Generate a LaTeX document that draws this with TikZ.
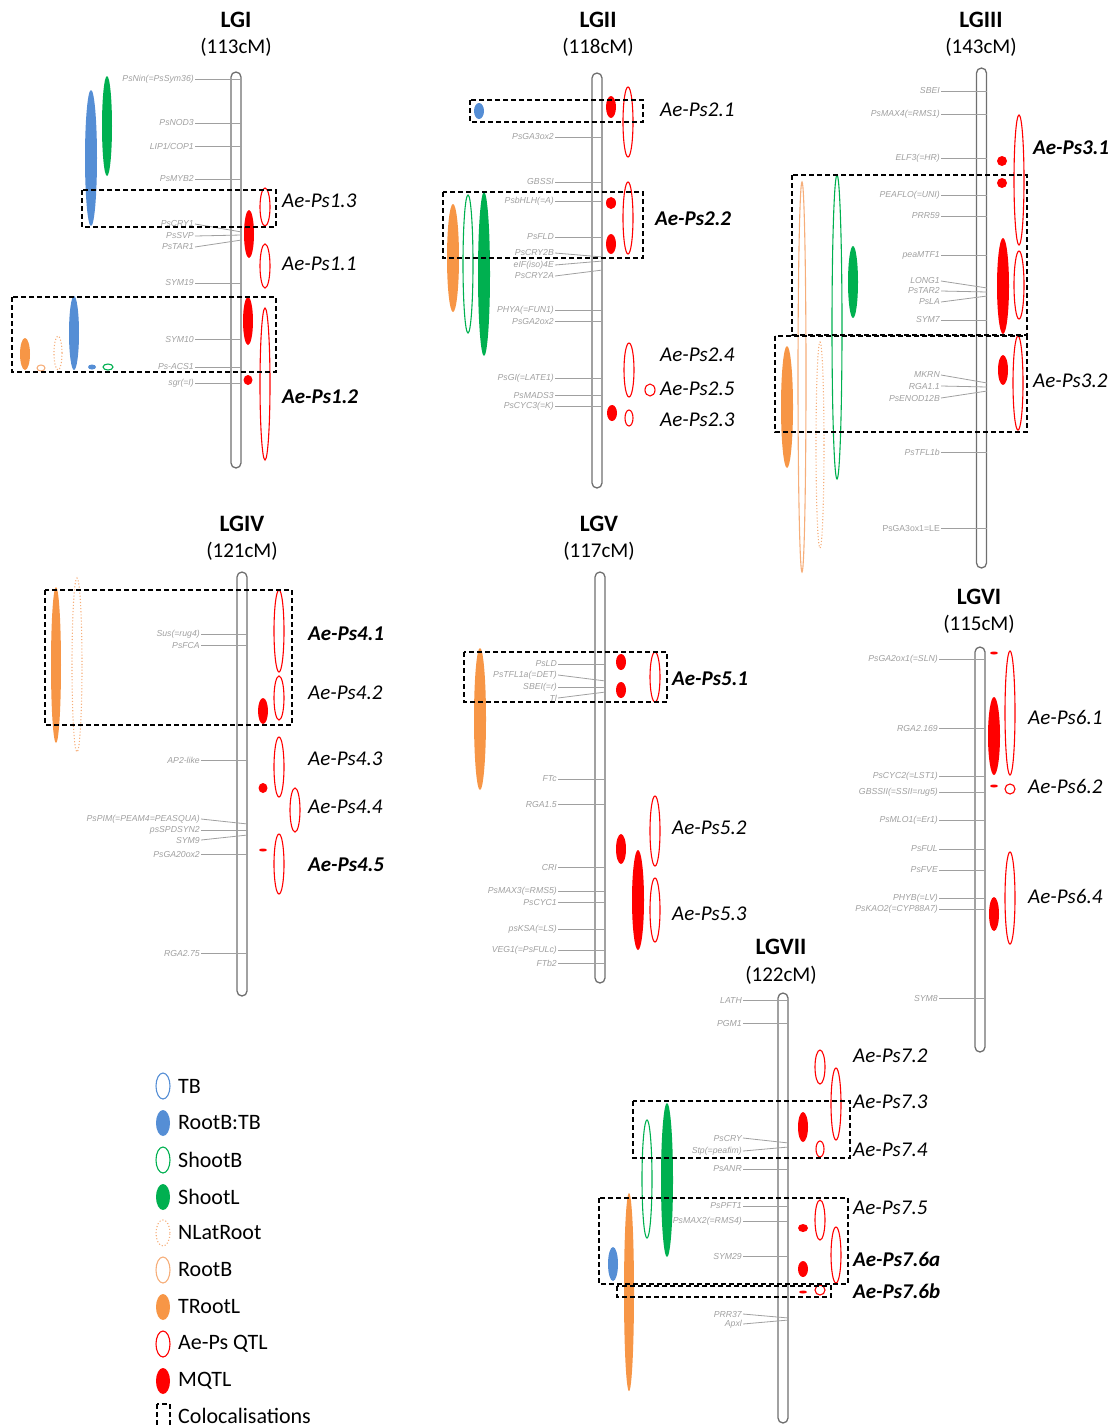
\documentclass[tikz,border=0pt]{standalone}
\usepackage{fontspec}
\setmainfont{Carlito}
\newfontfamily\mkfont{Liberation Sans}
\definecolor{blueC}{HTML}{558ED5}
\definecolor{greenC}{HTML}{00B050}
\definecolor{orangeC}{HTML}{F79646}
\definecolor{lorangeC}{HTML}{F6AE7A}
\definecolor{mkC}{HTML}{A0A0A0}
\definecolor{barC}{HTML}{6F6F6F}
\newcommand\qe[5][]{\path[#1] (#2,#3) ellipse [x radius=#4pt, y radius=#5pt];}
\begin{document}
\begin{tikzpicture}[x=1pt,y=-1pt,
 bar/.style={draw=barC, line width=1.3pt, rounded corners=5pt, minimum width=10pt, inner sep=0pt},
 mk/.style={anchor=east, inner sep=1pt, text=mkC, font=\mkfont\itshape\fontsize{8.7}{9}\selectfont},
 tick/.style={draw=mkC, line width=0.8pt},
 mq/.style={fill=red},
 aq/.style={draw=red, line width=1.1pt},
 tbo/.style={draw=blueC, line width=1.1pt},
 rtb/.style={fill=blueC},
 sbo/.style={draw=greenC, line width=1.1pt},
 slf/.style={fill=greenC},
 nlr/.style={draw=lorangeC, line width=1.1pt, dotted},
 rbo/.style={draw=lorangeC, line width=1.1pt},
 trl/.style={fill=orangeC},
 coloc/.style={draw=black, line width=1.1pt, dash pattern=on 5pt off 3pt},
 qlab/.style={anchor=west, inner sep=0pt, font=\itshape\fontsize{21}{24}\selectfont},
 qlabb/.style={anchor=west, inner sep=0pt, font=\bfseries\itshape\fontsize{21}{24}\selectfont},
 ttl/.style={inner sep=0pt, font=\bfseries\fontsize{23.5}{26}\selectfont},
 sub/.style={inner sep=0pt, font=\fontsize{21}{24}\selectfont},
 leg/.style={anchor=west, inner sep=0pt, font=\fontsize{22}{24}\selectfont}]
\useasboundingbox (0,0) rectangle (1112,1427);

% ---------------- titles
\node[ttl] (t1) at (236,20) {LGI};   \node[sub] (s1) at (236,47) {(113cM)};
\node[ttl] (t2) at (598,20) {LGII};  \node[sub] (s2) at (598,47) {(118cM)};
\node[ttl] (t3) at (981,20) {LGIII}; \node[sub] (s3) at (981,47) {(143cM)};
\node[ttl] (t4) at (242,524) {LGIV}; \node[sub] (s4) at (242,551) {(121cM)};
\node[ttl] (t5) at (599,524) {LGV};  \node[sub] (s5) at (599,551) {(117cM)};
\node[ttl] (t6) at (979,597) {LGVI}; \node[sub] (s6) at (979,624) {(115cM)};
\node[ttl] (t7) at (781,947) {LGVII};\node[sub] (s7) at (781,975) {(122cM)};

% ---------------- chromosome bars
\node[bar, minimum height=396pt] (c1) at (236,270) {};
\node[bar, minimum height=415pt] (c2) at (597,280.5) {};
\node[bar, minimum height=500pt] (c3) at (981.5,318) {};
\node[bar, minimum height=424pt] (c4) at (242,784) {};
\node[bar, minimum height=411pt] (c5) at (600,777.5) {};
\node[bar, minimum height=405pt] (c6) at (980,849.5) {};
\node[bar, minimum height=430pt] (c7) at (783,1208) {};

% ---------------- markers
\foreach \t/\y/\yb [count=\i] in {PsNin(=PsSym36)/79/79, PsNOD3/123/123, {LIP1/COP1}/146/146, PsMYB2/179/179, PsCRY1/224/232, PsSVP/236/235, PsTAR1/247/240, SYM19/283/283, SYM10/339/339, Ps-ACS1/367/367, sgr(=I)/383/383}{
  \node[mk] (ma\i) at (195,\y) {\t};
  \draw[tick] (ma\i.east) -- (c1.east |- 0,\yb);
}
\foreach \t/\y/\yb [count=\i] in {PsGA3ox2/137/137, GBSSI/182/182, PsbHLH(=A)/201/201, PsFLD/237/237, PsCRY2B/253/257, eIF(iso)4E/265/261, PsCRY2A/276/270, PHYA(=FUN1)/310/310, PsGA2ox2/321/321, PsGI(=LATE1)/378/378, PsMADS3/395/395, PsCYC3(=K)/406/406}{
  \node[mk] (mb\i) at (555,\y) {\t};
  \draw[tick] (mb\i.east) -- (c2.east |- 0,\yb);
}
\foreach \t/\y/\yb [count=\i] in {SBEI/91/91, PsMAX4(=RMS1)/114/114, ELF3(=HR)/158/158, PEAFLO(=UNI)/195/195, PRR59/216/216, peaMTF1/255/255, LONG1/281/288, PsTAR2/291/292, PsLA/302/296, SYM7/320/320, MKRN/375/383, RGA1.1/386/387, PsENOD12B/398/391, PsTFL1b/452/452}{
  \node[mk] (mc\i) at (941,\y) {\t};
  \draw[tick] (mc\i.east) -- (c3.east |- 0,\yb);
}
\node[mk, font=\mkfont\fontsize{8.7}{9}\selectfont] (mc15) at (941,528) {PsGA3ox1=LE};
\draw[tick] (mc15.east) -- (c3.east |- 0,528);
\foreach \t/\y/\yb [count=\i] in {Sus(=rug4)/634/634, PsFCA/645/645, AP2-like/760/760, PsPIM(=PEAM4=PEASQUA)/819/824, psSPDSYN2/830/830, SYM9/840/835, PsGA20ox2/854/854, RGA2.75/953/953}{
  \node[mk] (md\i) at (201,\y) {\t};
  \draw[tick] (md\i.east) -- (c4.east |- 0,\yb);
}
\foreach \t/\y/\yb [count=\i] in {PsLD/664/664, PsTFL1a(=DET)/675/681, SBEI(=r)/687/687, Tl/698/692, FTc/779/779, RGA1.5/804/804, CRI/867/867, PsMAX3(=RMS5)/891/891, PsCYC1/902/902, psKSA(=LS)/929/929, VEG1(=PsFULc)/950/950, FTb2/963/963}{
  \node[mk] (me\i) at (558,\y) {\t};
  \draw[tick] (me\i.east) -- (c5.east |- 0,\yb);
}
\foreach \t/\y/\yb [count=\i] in {PsGA2ox1(=SLN)/659/659, RGA2.169/728/728, PsCYC2(=LST1)/776/776, GBSSII(=SSII=rug5)/792/792, PsMLO1(=Er1)/820/820, PsFUL/849/849, PsFVE/870/870, PHYB(=LV)/898/898, PsKAO2(=CYP88A7)/909/909, SYM8/998/998}{
  \node[mk] (mf\i) at (939,\y) {\t};
  \draw[tick] (mf\i.east) -- (c6.east |- 0,\yb);
}
\foreach \t/\y/\yb [count=\i] in {LATH/1000/1000, PGM1/1023/1023, PsCRY/1138/1143, Stp(=peafim)/1151/1147, PsANR/1169/1169, PsPFT1/1206/1206, PsMAX2(=RMS4)/1221/1221, SYM29/1256/1256, PRR37/1314/1318, Apxl/1324/1320}{
  \node[mk] (mg\i) at (743,\y) {\t};
  \draw[tick] (mg\i.east) -- (c7.east |- 0,\yb);
}

% ---------------- LGI
\qe[slf]{107}{126}{5}{50}
\qe[rtb]{91}{158}{6}{68}
\qe[aq]{265}{207}{5}{19}
\qe[mq]{249}{234}{5}{24}
\qe[aq]{265}{266}{5}{22}
\qe[mq]{248}{321}{5}{24}
\qe[aq]{265}{384}{5}{76}
\qe[mq]{248}{380}{4.5}{5}
\qe[trl]{25}{354}{5}{16}
\qe[rbo]{41}{368}{4}{3}
\qe[nlr]{58}{353}{4}{17}
\qe[rtb]{74}{333}{5}{37}
\qe[rtb]{92}{367}{4}{2.5}
\qe[sbo]{108}{367}{5}{3}
\draw[coloc] (82,190) rectangle (276,227);
\draw[coloc] (12,297) rectangle (276,372);
\node[qlab] (q13) at (282,201) {Ae-Ps1.3};
\node[qlab] (q11) at (282,264) {Ae-Ps1.1};
\node[qlabb] (q12) at (282,397) {Ae-Ps1.2};

% ---------------- LGII
\qe[rtb]{479}{111}{5}{8}
\qe[mq]{611}{107}{5}{11}
\qe[aq]{628}{122}{5}{35}
\qe[mq]{611}{203}{5}{6}
\qe[mq]{611}{244}{5}{10}
\qe[aq]{628}{218}{5}{36}
\qe[trl]{453}{258}{6}{54}
\qe[sbo]{468}{264}{5}{69}
\qe[slf]{484}{274}{6}{82}
\qe[aq]{629}{370}{5}{27}
\qe[aq]{650}{390}{5}{6}
\qe[mq]{612}{413}{5}{8}
\qe[aq]{629}{418}{4}{8}
\draw[coloc] (470,100) rectangle (643,122);
\draw[coloc] (443,192) rectangle (643,258);
\node[qlab] (q21) at (660,110) {Ae-Ps2.1};
\node[qlabb] (q22) at (655,219) {Ae-Ps2.2};
\node[qlab] (q24) at (660,355) {Ae-Ps2.4};
\node[qlab] (q25) at (660,389) {Ae-Ps2.5};
\node[qlab] (q23) at (660,420) {Ae-Ps2.3};

% ---------------- LGIII
\qe[aq]{1019}{180}{5}{65}
\qe[mq]{1002}{161}{5}{5}
\qe[mq]{1002}{183}{5}{5}
\qe[mq]{1003}{286}{6}{48}
\qe[aq]{1019}{285}{5}{34}
\qe[mq]{1003}{370}{5}{15}
\qe[aq]{1018}{383}{5}{47}
\qe[rbo]{802}{377}{4}{195}
\qe[sbo]{837}{327}{5}{152}
\qe[slf]{853}{282}{5}{36}
\qe[trl]{787}{407}{6}{61}
\qe[nlr]{820}{445}{4}{103}
\draw[coloc] (792,175) rectangle (1027,335);
\draw[coloc] (775,336) rectangle (1027,432);
\node[qlabb] (q31) at (1033,148) {Ae-Ps3.1};
\node[qlab] (q32) at (1033,381) {Ae-Ps3.2};

% ---------------- LGIV
\qe[trl]{56}{665}{5}{78}
\qe[nlr]{77}{665}{5}{87}
\qe[aq]{279}{631}{5}{41}
\qe[aq]{279}{698}{5}{22}
\qe[mq]{263}{711}{5}{13}
\qe[aq]{279}{767}{5}{30}
\qe[mq]{263}{788}{4.5}{5}
\qe[aq]{295}{810}{5}{22}
\qe[mq]{263}{850}{4}{1.5}
\qe[aq]{279}{864}{5}{30}
\draw[coloc] (45,590) rectangle (292,725);
\node[qlabb] (q41) at (308,634) {Ae-Ps4.1};
\node[qlab] (q42) at (308,693) {Ae-Ps4.2};
\node[qlab] (q43) at (308,759) {Ae-Ps4.3};
\node[qlab] (q44) at (308,807) {Ae-Ps4.4};
\node[qlabb] (q45) at (308,865) {Ae-Ps4.5};

% ---------------- LGV
\qe[trl]{480}{719}{6}{71}
\qe[mq]{621}{662}{5}{8}
\qe[mq]{621}{690}{5}{8}
\qe[aq]{655}{677}{5}{25}
\qe[aq]{655}{831}{5}{35}
\qe[mq]{621}{849}{5}{15}
\qe[mq]{638}{900}{6}{50}
\qe[aq]{655}{910}{5}{32}
\draw[coloc] (464,652) rectangle (667,702);
\node[qlabb] (q51) at (672,679) {Ae-Ps5.1};
\node[qlab] (q52) at (672,828) {Ae-Ps5.2};
\node[qlab] (q53) at (672,914) {Ae-Ps5.3};

% ---------------- LGVI
\qe[mq]{994}{653}{4}{1.5}
\qe[aq]{1010}{713}{5}{62}
\qe[mq]{994}{736}{6}{39}
\qe[mq]{994}{786}{4}{1.5}
\qe[aq]{1010}{789}{5}{5}
\qe[aq]{1010}{898}{5}{46}
\qe[mq]{994}{914}{5}{17}
\node[qlab] (q61) at (1028,717) {Ae-Ps6.1};
\node[qlab] (q62) at (1028,786) {Ae-Ps6.2};
\node[qlab] (q64) at (1028,896) {Ae-Ps6.4};

% ---------------- LGVII
\qe[sbo]{647}{1179}{5}{59}
\qe[slf]{667}{1180}{6}{77}
\qe[trl]{629}{1292}{5}{99}
\qe[rtb]{613}{1264}{5}{17}
\qe[aq]{820}{1067}{5}{17}
\qe[aq]{836}{1104}{5}{36}
\qe[mq]{803}{1127}{5}{15}
\qe[aq]{820}{1149}{4}{8}
\qe[aq]{820}{1220}{5}{20}
\qe[mq]{803}{1228}{5}{4}
\qe[aq]{836}{1255}{5}{28}
\qe[mq]{803}{1269}{5}{8}
\qe[mq]{803}{1292}{4}{1.5}
\qe[aq]{820}{1290}{5}{5}
\draw[coloc] (633,1101) rectangle (850,1158);
\draw[coloc] (599,1198) rectangle (848,1284);
\draw[coloc] (617,1286) rectangle (831,1297);
\node[qlab] (q72) at (853,1056) {Ae-Ps7.2};
\node[qlab] (q73) at (853,1102) {Ae-Ps7.3};
\node[qlab] (q74) at (853,1150) {Ae-Ps7.4};
\node[qlab] (q75) at (853,1208) {Ae-Ps7.5};
\node[qlabb] (q76a) at (853,1259) {Ae-Ps7.6a};
\node[qlabb] (q76b) at (853,1291) {Ae-Ps7.6b};

% ---------------- legend
\qe[tbo]{163}{1086}{7}{13}  \node[leg] (l1) at (178,1086) {TB};
\qe[rtb]{163}{1123}{7}{13}  \node[leg] (l2) at (178,1123) {RootB:TB};
\qe[sbo]{163}{1160}{7}{13}  \node[leg] (l3) at (178,1160) {ShootB};
\qe[slf]{163}{1197}{7}{13}  \node[leg] (l4) at (178,1197) {ShootL};
\qe[nlr]{163}{1233}{7}{13}  \node[leg] (l5) at (178,1233) {NLatRoot};
\qe[rbo]{163}{1270}{7}{13}  \node[leg] (l6) at (178,1270) {RootB};
\qe[trl]{163}{1307}{7}{13}  \node[leg] (l7) at (178,1307) {TRootL};
\qe[aq]{163}{1344}{7}{13}   \node[leg] (l8) at (178,1344) {Ae-Ps QTL};
\qe[mq]{163}{1381}{7}{13}   \node[leg] (l9) at (178,1381) {MQTL};
\draw[coloc] (157,1404) rectangle (170,1432);
\node[leg] (l10) at (178,1416) {Colocalisations};
\end{tikzpicture}
\end{document}
